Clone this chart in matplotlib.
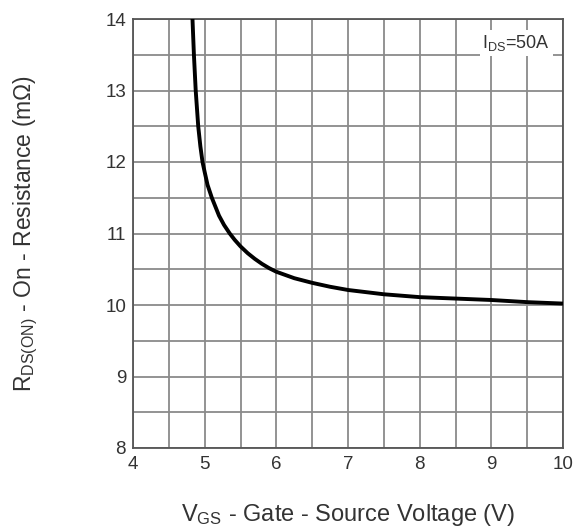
import matplotlib
matplotlib.use("Agg")
import matplotlib.pyplot as plt
import numpy as np

# Data
vgs = [4.83, 4.85, 4.875, 4.91, 4.94, 4.97, 5.0, 5.04, 5.1, 5.2, 5.27, 5.35, 5.42,
       5.5, 5.6, 5.7, 5.8, 5.9, 6.0, 6.25, 6.5, 6.75, 7.0, 7.5, 8.0, 8.5, 9.0,
       9.5, 10.0]
rds = [14.0, 13.5, 13.0, 12.5, 12.22, 12.0, 11.86, 11.68, 11.5, 11.25, 11.12,
       11.0, 10.91, 10.82, 10.725, 10.645, 10.575, 10.515, 10.465, 10.375, 10.31,
       10.255, 10.21, 10.15, 10.11, 10.09, 10.07, 10.04, 10.02]
x_ticks = [4, 5, 6, 7, 8, 9, 10]
y_ticks = [8, 9, 10, 11, 12, 13, 14]

plt.rcParams['font.family'] = ['Liberation Sans', 'DejaVu Sans']
plt.rcParams['mathtext.fontset'] = 'custom'
plt.rcParams['mathtext.rm'] = 'Liberation Sans'
plt.rcParams['mathtext.it'] = 'Liberation Sans'

fig = plt.figure(figsize=(5.76, 5.31), dpi=100)
ax = fig.add_axes([133/576, 83/531, 430/576, 429/531])

ax.set_xlim(4, 10)
ax.set_ylim(8, 14)
ax.set_xticks(np.arange(4, 10.01, 0.5), minor=True)
ax.set_yticks(np.arange(8, 14.01, 0.5), minor=True)
ax.set_xticks(x_ticks)
ax.set_yticks(y_ticks)
ax.grid(True, which='both', color='#8a8a8a', linewidth=1.3)
ax.set_axisbelow(True)
ax.tick_params(which='both', length=0)
ax.tick_params(axis='x', pad=6, labelsize=13.5, colors='#333333')
ax.tick_params(axis='y', pad=5, labelsize=13.5, colors='#333333')
for s in ax.spines.values():
    s.set_color('#555555')
    s.set_linewidth(1.3)

ax.plot(vgs, rds, color='black', linewidth=2.8, solid_capstyle='round',
        solid_joinstyle='round', zorder=3)

ax.text(0.97, 0.944, r'I$_{\mathregular{DS}}$=50A', transform=ax.transAxes,
        ha='right', va='center', fontsize=13, color='#333333',
        bbox=dict(facecolor='white', edgecolor='none', pad=2), zorder=4)

ax.set_xlabel(r'V$_{\mathregular{GS}}$ - Gate - Source Voltage (V)', fontsize=17,
              color='#333333', labelpad=21)
ax.set_ylabel(r'R$_{\mathregular{DS(ON)}}$ - On - Resistance (m$\Omega$)', fontsize=16.5,
              color='#333333', labelpad=47)

fig.savefig('out.png', dpi=100, facecolor='white')
